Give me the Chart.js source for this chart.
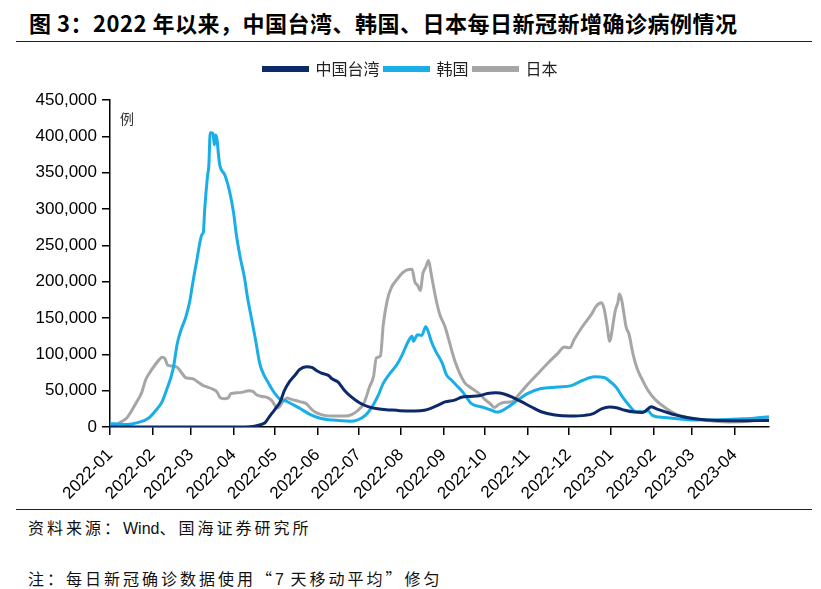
<!DOCTYPE html>
<html>
<head>
<meta charset="utf-8">
<script src="https://cdn.jsdelivr.net/npm/chart.js@4.4.1/dist/chart.umd.min.js"></script>
<style>
  html, body { margin: 0; padding: 0; background: #fff; }
  body { width: 821px; height: 589px; position: relative; overflow: hidden; font-family: "Noto Sans CJK SC", sans-serif; }
  .title { position: absolute; left: 29px; top: 6px; font-size: 22px; font-weight: bold; color: #000; letter-spacing: 0.5px; white-space: nowrap; }
  .rule { position: absolute; left: 16px; width: 796px; height: 0; border-top: 1.5px solid #222; }
  .note { position: absolute; left: 28px; font-size: 16px; color: #111; letter-spacing: 3px; white-space: nowrap; }
  .note .lat { font-family: "Liberation Sans", Arial, sans-serif; letter-spacing: 0; }
  #wrap { position: absolute; left: 0; top: 56px; width: 821px; height: 445px; }
</style>
</head>
<body>
<div class="title">图 3：2022 年以来，中国台湾、韩国、日本每日新冠新增确诊病例情况</div>
<div class="rule" style="top:41px"></div>
<div id="wrap"><canvas id="covidChart"></canvas></div>
<div class="rule" style="top:509px"></div>
<div class="note" style="top:515px">资料来源：<span class="lat">Wind</span>、国海证券研究所</div>
<div class="note" style="top:566px">注：每日新冠确诊数据使用“<span class="lat">7</span> 天移动平均”修匀</div>
<script>
// x values are days counted from 2022-01-01
const monthDays = [0, 31, 59, 90, 120, 151, 181, 212, 243, 273, 304, 334, 365, 396, 424, 455];
const monthLabels = ['2022-01', '2022-02', '2022-03', '2022-04', '2022-05', '2022-06', '2022-07', '2022-08',
  '2022-09', '2022-10', '2022-11', '2022-12', '2023-01', '2023-02', '2023-03', '2023-04'];
const yTicks = [0, 50000, 100000, 150000, 200000, 250000, 300000, 350000, 400000, 450000];

const seriesNames = ['中国台湾', '韩国', '日本'];
const seriesColors = ['#0c2a6a', '#1aaee8', '#a6a6a6'];

const twDays = [0, 30, 60, 95, 102, 106, 109, 113, 116, 120, 124, 127, 131, 135, 138, 143, 147, 151, 154, 159,
  162, 166, 171, 176, 182, 188, 195, 204, 211, 222, 229, 234, 239, 244, 251, 256, 262, 269, 275, 281, 287, 293,
  300, 307, 314, 324, 335, 346, 352, 358, 364, 369, 375, 382, 388, 392, 394, 398, 405, 413, 422, 433, 444, 458, 480];
const twCases = [0, 0, 0, 0, 500, 1500, 3000, 6000, 14000, 24000, 35000, 50000, 63000, 72000, 79000, 83000, 82000,
  77000, 74000, 71000, 66000, 62000, 50000, 41000, 33000, 28000, 25000, 23500, 22500, 22000, 23000, 26000, 30000,
  34500, 37000, 41000, 42000, 43000, 46000, 47000, 45500, 41000, 34500, 27500, 21000, 16500, 15000, 16000, 18500,
  25000, 27500, 26500, 23000, 20500, 20000, 25000, 28000, 25000, 20500, 16000, 12500, 10000, 9000, 8500, 9000];

const krDays = [0, 6, 13, 20, 28, 33, 38, 41, 46, 49, 52, 55, 58, 60, 63, 67, 68, 69, 71, 72, 73, 75, 76, 77, 78,
  79, 80, 83, 84, 87, 90, 92, 95, 98, 100, 103, 106, 109, 112, 115, 118, 121, 124, 128, 132, 138, 146, 153, 162,
  175, 180, 186, 191, 195, 199, 204, 209, 213, 217, 220, 221, 224, 227, 230, 232, 234, 237, 242, 245, 249, 253,
  257, 260, 263, 271, 278, 282, 290, 297, 304, 314, 326, 336, 344, 353, 360, 364, 369, 373, 378, 383, 387, 392,
  395, 404, 415, 429, 444, 458, 469, 480];
const krCases = [4500, 4000, 3500, 6000, 12000, 22000, 35000, 50000, 80000, 115000, 135000, 150000, 172000,
  195000, 227000, 265000, 268000, 300000, 345000, 360000, 405000, 404000, 388000, 402000, 395000, 375000, 360000,
  349000, 345000, 325000, 295000, 265000, 232000, 205000, 180000, 150000, 120000, 88000, 72000, 62000, 52000,
  44000, 38000, 36000, 32000, 26000, 17000, 12000, 9500, 8000, 9500, 16000, 28000, 42000, 60000, 74000, 86000,
  100000, 117000, 125000, 118000, 127000, 126000, 138000, 130000, 118000, 105000, 88000, 72000, 64000, 56000,
  48000, 40000, 32500, 27500, 23000, 20500, 27500, 37000, 46000, 53000, 55000, 57000, 64000, 69000, 68000, 63000,
  54000, 42000, 30000, 21000, 21000, 22000, 16000, 13000, 11000, 9500, 10000, 11000, 12000, 14000];

const jpDays = [0, 4, 7, 12, 15, 19, 23, 26, 29, 33, 36, 38, 40, 42, 45, 49, 52, 55, 58, 61, 64, 68, 71, 75, 78,
  80, 83, 86, 88, 92, 97, 101, 104, 107, 111, 114, 118, 120, 122, 126, 129, 132, 138, 143, 147, 151, 156, 164, 171,
  176, 180, 185, 189, 192, 194, 197, 199, 202, 205, 209, 213, 216, 220, 222, 224, 226, 228, 230, 232, 234, 237,
  240, 244, 251, 258, 262, 266, 269, 273, 277, 280, 284, 288, 293, 298, 304, 312, 319, 326, 331, 335, 338, 344,
  351, 354, 358, 360, 362, 364, 365, 368, 370, 371, 373, 374, 376, 378, 381, 384, 388, 392, 397, 402, 408, 413,
  421, 429, 440, 451, 462, 473, 480];
const jpCases = [1000, 2000, 6000, 12000, 20000, 33000, 47000, 65000, 75000, 86000, 93000, 96000, 94000, 85000,
  84000, 82000, 75000, 68000, 67000, 66000, 62000, 57000, 55000, 52000, 48000, 41000, 39000, 40000, 46000, 47000,
  48000, 50000, 49000, 44000, 42000, 41000, 36000, 30000, 26000, 35000, 40000, 38000, 35000, 32000, 24000, 19000,
  16000, 15000, 15000, 17000, 22000, 33000, 55000, 70000, 95000, 98000, 140000, 175000, 192000, 203000, 212000,
  216000, 217000, 200000, 195000, 188000, 212000, 220000, 229000, 210000, 180000, 156000, 138000, 92000, 62000,
  55000, 50000, 46000, 38000, 32000, 27000, 32000, 34000, 35000, 45000, 58000, 74000, 88000, 101000, 110000,
  109000, 120000, 138000, 156000, 166000, 171000, 162000, 140000, 118000, 125000, 160000, 172000, 183000, 172000,
  160000, 137000, 128000, 100000, 80000, 64000, 50000, 38000, 30000, 22000, 17000, 13000, 10500, 8000, 7000,
  7500, 10000, 11000];

function toPoints(days, values) {
  return days.map((d, i) => ({ x: d, y: values[i] }));
}

const seriesPoints = [toPoints(twDays, twCases), toPoints(krDays, krCases), toPoints(jpDays, jpCases)];

// extra room under the legend, and centre the legend on the page rather than on the padded box
const legendTweak = {
  id: 'legendTweak',
  beforeInit(chart) {
    const fit = chart.legend.fit;
    chart.legend.fit = function () {
      fit.call(this);
      this.height += 13;
    };
  },
  afterLayout(chart) {
    const shift = (chart.width - (chart.legend.left + chart.legend.right)) / 2;
    chart.legend.left += shift;
    chart.legend.right += shift;
  }
};

// small unit label in the top-left corner of the plot
const unitLabel = {
  id: 'unitLabel',
  afterDraw(chart) {
    const { ctx, chartArea } = chart;
    ctx.save();
    ctx.font = '14px "Noto Sans CJK SC"';
    ctx.fillStyle = '#333';
    ctx.textBaseline = 'middle';
    ctx.fillText('例', chartArea.left + 10, chartArea.top + 19);
    ctx.restore();
  }
};

const ctx = document.getElementById('covidChart').getContext('2d');
new Chart(ctx, {
  type: 'line',
  data: {
    datasets: seriesNames.map((name, i) => ({
      label: name,
      data: seriesPoints[i],
      borderColor: seriesColors[i],
      backgroundColor: seriesColors[i],
      borderWidth: 3,
      pointRadius: 0,
      cubicInterpolationMode: 'monotone',
      fill: false
    }))
  },
  options: {
    responsive: true,
    maintainAspectRatio: false,
    animation: false,
    layout: { padding: { left: 0, right: 52, top: 0, bottom: 0 } },
    plugins: {
      tooltip: { enabled: false },
      legend: {
        position: 'top',
        labels: {
          boxWidth: 44,
          boxHeight: 3,
          padding: 5,
          color: '#222',
          font: { family: '"Noto Sans CJK SC"', size: 16 }
        }
      }
    },
    scales: {
      x: {
        type: 'linear',
        min: 0,
        max: 480,
        afterBuildTicks: (scale) => { scale.ticks = monthDays.map(v => ({ value: v })); },
        afterFit: (scale) => { scale.height = 74; },
        border: { color: '#000', width: 1.5 },
        grid: { drawOnChartArea: false, tickLength: 8, color: '#000', lineWidth: 1.5 },
        ticks: {
          autoSkip: false,
          minRotation: 45,
          maxRotation: 45,
          padding: 10,
          color: '#000',
          font: { family: '"Liberation Sans", Arial', size: 17 },
          callback: (v) => monthLabels[monthDays.indexOf(v)]
        }
      },
      y: {
        min: 0,
        max: 450000,
        afterBuildTicks: (scale) => { scale.ticks = yTicks.map(v => ({ value: v })); },
        afterFit: (scale) => { scale.width = 110; },
        border: { color: '#000', width: 1.5 },
        grid: { drawOnChartArea: false, tickLength: 8, color: '#000', lineWidth: 1.5 },
        ticks: {
          padding: 5,
          color: '#000',
          font: { family: '"Liberation Sans", Arial', size: 17 },
          callback: (v) => v.toLocaleString('en-US')
        }
      }
    }
  },
  plugins: [legendTweak, unitLabel]
});
</script>
</body>
</html>
